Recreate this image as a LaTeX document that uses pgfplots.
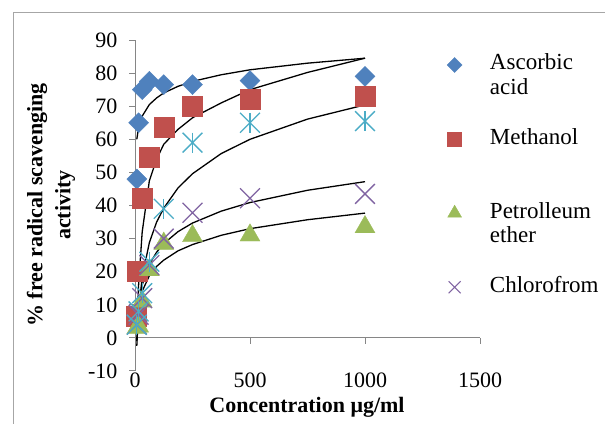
\documentclass[border=0pt]{standalone}
\usepackage{pgfplots}
\pgfplotsset{compat=1.18}
\usepackage{fontspec}
\setmainfont{Liberation Serif}
\definecolor{cA}{HTML}{4F81BD}
\definecolor{cM}{HTML}{C0504D}
\definecolor{cP}{HTML}{9BBB59}
\definecolor{cC}{HTML}{8064A2}
\definecolor{cS}{HTML}{4BACC6}
\definecolor{axgray}{HTML}{868686}
\definecolor{framegray}{HTML}{A6A6A6}
\begin{document}
\begin{tikzpicture}[x=1pt,y=1pt]
\path[use as bounding box] (0,0) rectangle (605,423);
\begin{scope}
\clip (0,0) rectangle (605,423);
\draw[framegray, line width=1pt] (13,-20) rectangle (640,410);
\begin{axis}[
  at={(135pt,52pt)}, anchor=south west,
  scale only axis, width=345pt, height=331pt,
  xmin=0, xmax=1500, ymin=-10, ymax=90,
  axis y line*=left, axis x line*=bottom,
  x axis line style={draw=none},
  y axis line style={axgray, line width=1pt},
  xtick={0,500,1000,1500}, ytick={-10,0,...,90},
  xtick style={draw=none},
  ytick style={axgray, line width=1pt},
  tick align=outside, major tick length=6pt,
  /pgf/number format/assume math mode=true,
  /pgf/number format/1000 sep={},
  tick label style={font=\fontsize{22}{26}\selectfont},
  xticklabel style={yshift=8pt},
  yticklabel style={anchor=east, xshift=-8pt},
  clip=false,
  legend style={at={(0.8975,0.9618)}, anchor=north west, draw=none, fill=none,
    inner sep=0pt, outer sep=0pt, row sep=0pt,
    font=\fontsize{23}{27}\selectfont,
    nodes={inner sep=2.35pt, text height=15pt, text depth=5pt}},
  legend cell align=left,
  legend image code/.code={\path[draw=none,fill=none] (-10pt,0pt) -- (33pt,0pt); \draw[#1] plot coordinates {(0pt,0pt)};},
]
\draw[axgray, line width=1pt] (axis cs:0,0) -- (axis cs:1500,0);
\draw[axgray, line width=1pt] (axis cs:500,0) -- ++(0pt,-6pt);
\draw[axgray, line width=1pt] (axis cs:1000,0) -- ++(0pt,-6pt);
\draw[axgray, line width=1pt] (axis cs:1500,0) -- ++(0pt,-6pt);

% Ascorbic acid
\addplot[only marks, mark=square*, mark size=7.07pt, mark options={rotate=45, fill=cA, draw=cA}, forget plot]
coordinates {(7.8,48) (15.6,65) (31.25,75) (62.5,77.5) (125,76.5) (250,76.5) (500,77.7) (1000,79)};
% Methanol
\addplot[only marks, mark=square*, mark size=10pt, mark options={fill=cM, draw=cM}, forget plot]
coordinates {(4,6.5) (7.8,20.3) (31.25,42.2) (62.5,54.6) (125,63.6) (250,70) (500,72.2) (1000,73.1)};
% Petroleum ether
\addplot[only marks, mark=triangle*, mark size=11.5pt, mark options={fill=cP, draw=cP}, forget plot]
coordinates {(7.8,3) (15.6,3.5) (31.25,11) (62.5,20.5) (125,28.5) (250,30.8) (500,31) (1000,33.5)};
% Chloroform
\addplot[only marks, mark=x, mark size=14pt, mark options={draw=cC, line width=1.3pt}, forget plot]
coordinates {(7.8,4) (15.6,7) (31.25,12) (62.5,22) (125,30) (250,37.8) (500,42.2) (1000,43.5)};
% unnamed series (asterisk)
\addplot[only marks, mark=x, mark size=14pt, mark options={draw=cS, line width=1.3pt}, forget plot]
coordinates {(7.8,4) (15.6,8) (31.25,13.5) (62.5,23) (125,39) (250,59) (500,65) (1000,65.5)};
\addplot[only marks, mark=|, mark size=10pt, mark options={draw=cS, line width=1.3pt}, forget plot]
coordinates {(7.8,4) (15.6,8) (31.25,13.5) (62.5,23) (125,39) (250,59) (500,65) (1000,65.5)};

% trend lines
\addplot[black, line width=1.3pt, no markers, forget plot] coordinates {
(7.8,60.0) (15.6,63.5) (31.25,67.0) (62.5,70.5) (94,72.5) (125,74.0) (187,76.0) (250,77.5) (375,79.5) (500,81.0) (750,83.0) (1000,84.5)};
\addplot[black, line width=1.3pt, no markers, forget plot] coordinates {
(7.8,-1) (11,8) (15.6,16) (31.25,32) (62.5,47.5) (94,54) (125,58.5) (187,63) (250,66.5) (375,71) (500,75) (750,80.2) (1000,84.5)};
\addplot[black, line width=1.3pt, no markers, forget plot] coordinates {
(7.8,-2.4) (15.6,8.0) (31.25,18.4) (62.5,28.8) (94,35.0) (125,39.2) (187,45.3) (250,49.6) (375,55.7) (500,60.0) (750,66.1) (1000,70.4)};
\addplot[black, line width=1.3pt, no markers, forget plot] coordinates {
(7.8,3.5) (15.6,9.7) (31.25,16.0) (62.5,22.2) (94,25.9) (125,28.5) (187,32.1) (250,34.7) (375,38.3) (500,40.9) (750,44.6) (1000,47.2)};
\addplot[black, line width=1.3pt, no markers, forget plot] coordinates {
(7.8,4.7) (15.6,9.4) (31.25,14.1) (62.5,18.8) (94,21.6) (125,23.5) (187,26.3) (250,28.2) (375,31.0) (500,33.0) (750,35.7) (1000,37.7)};

% legend
\addlegendimage{only marks, mark=square*, mark size=5.3pt, mark options={rotate=45, fill=cA, draw=cA}}
\addlegendentry{Ascorbic}
\addlegendimage{empty legend}\addlegendentry{acid}
\addlegendimage{empty legend}\addlegendentry{\mbox{}}
\addlegendimage{only marks, mark=square*, mark size=7pt, mark options={fill=cM, draw=cM}}
\addlegendentry{Methanol}
\addlegendimage{empty legend}\addlegendentry{\mbox{}}
\addlegendimage{empty legend}\addlegendentry{\mbox{}}
\addlegendimage{only marks, mark=triangle*, mark size=8pt, mark options={fill=cP, draw=cP}}
\addlegendentry{Petrolleum}
\addlegendimage{empty legend}\addlegendentry{ether}
\addlegendimage{empty legend}\addlegendentry{\mbox{}}
\addlegendimage{only marks, mark=x, mark size=8.5pt, mark options={draw=cC, line width=1pt}}
\addlegendentry{Chlorofrom}
\end{axis}
\node[rotate=90, align=center, font=\bfseries\fontsize{22}{28}\selectfont] at (51,218) {\% free radical scavenging\\activity};
\node[font=\bfseries\fontsize{22}{26}\selectfont] at (307,16) {Concentration μg/ml};
\end{scope}
\end{tikzpicture}
\end{document}
